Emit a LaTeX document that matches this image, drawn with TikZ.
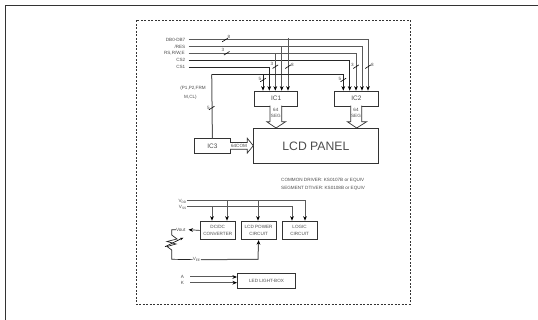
\documentclass[tikz,border=0pt]{standalone}
\usepackage{fontspec}
\setmainfont{Liberation Sans}
\usetikzlibrary{arrows.meta}
\definecolor{linegray}{gray}{0.35}
\tikzset{
  wire/.style={linegray,line width=1pt},
  thinwire/.style={black!85,line width=0.7pt},
  feed/.style={wire,-{Stealth[length=1.6mm,width=1.3mm,black]}},
  thinfeed/.style={thinwire,-{Stealth[length=1.6mm,width=1.3mm,black]}},
  slash/.style={black,line width=0.6pt},
  tag/.style={inner sep=0pt,font=\fontsize{4.6pt}{5pt}\selectfont,text=black!70},
  block/.style={draw=black!80,line width=0.8pt,inner sep=0pt,anchor=north west,align=center,font=\fontsize{4.6pt}{7pt}\selectfont,text=black!70},
  bigtag/.style={font=\fontsize{6.5pt}{7pt}\selectfont},
  bus/.style={draw=black!80,fill=white,line width=0.7pt,line join=miter}
}
\begin{document}
\begin{tikzpicture}[x=1pt,y=-1pt]
\useasboundingbox (0,0) rectangle (538,320);
\draw[black!80,line width=0.9pt] (5,320) -- (5,5) -- (538,5);
\draw[black!80,dashed,line width=0.6pt,dash pattern=on 2pt off 1.5pt] (136,20.3) rectangle (410,304.3);
% input lines
\node[tag,anchor=east] (db) at (185.5,40) {DB0-DB7};
\node[tag,anchor=east] (res) at (185.5,46.7) {/RES};
\node[tag,anchor=east] (rs) at (185,53.3) {RS,R/W,E};
\node[tag,anchor=east] (cstwo) at (185.5,60.3) {CS2};
\node[tag,anchor=east] (csone) at (185.5,67.3) {CS1};
\node[tag] (fm) at (193,88.3) {(P1,P2,FRM};
\node[tag] (ml) at (190.5,97.3) {M,CL)};
% blocks
\node[block,bigtag,minimum width=43.4pt,minimum height=15pt] (ic1) at (254,90.7) {IC1};
\node[block,bigtag,minimum width=43.4pt,minimum height=15pt] (ic2) at (334.3,90.7) {IC2};
\node[block,bigtag,minimum width=36pt,minimum height=15pt] (ic3) at (194,138.3) {IC3};
\node[block,minimum width=124.4pt,minimum height=35.6pt,font=\fontsize{12.2pt}{14pt}\selectfont] (panel) at (253.3,127.7) {LCD PANEL};
\node[block,minimum width=34.7pt,minimum height=18.6pt] (dcdc) at (200,220.7) {DC/DC\\CONVERTER};
\node[block,minimum width=35pt,minimum height=18.6pt] (power) at (240.7,220.7) {LCD POWER\\CIRCUIT};
\node[block,minimum width=35pt,minimum height=18.6pt] (logic) at (281.7,220.7) {LOGIC\\CIRCUIT};
\node[block,minimum width=58.3pt,minimum height=15pt] (led) at (237,272.7) {LED LIGHT-BOX};
% bus to ic1 and ic2
\coordinate (busa) at (188.7,40);
\coordinate (busb) at (188.7,46.7);
\coordinate (busc) at (188.7,53.3);
\coordinate (busd) at (188.7,60.3);
\coordinate (buse) at (188.7,67.3);
\draw[feed] (busa) -- (368,40) -- (368,90.7);
\draw[feed] (busb) -- (362,46.7) -- (362,90.7);
\draw[feed] (busc) -- (356,53.3) -- (356,90.7);
\draw[thinfeed] (busd) -- (349.7,60.3) -- (349.7,90.7);
\draw[thinfeed] (buse) -- (269.3,67.3) -- (269.3,90.7);
\draw[feed] (288,38) -- (288,90.7);
\draw[feed] (281.7,46.7) -- (281.7,90.7);
\draw[feed] (275.3,53.3) -- (275.3,90.7);
\draw[wire] (ic3.north) -- (211.7,74.3);
\draw[thinfeed] (211.7,74.3) -- (343.3,74.3) -- (343.3,90.7);
\draw[thinfeed] (263,74.3) -- (263,90.7);
% slashes
\foreach \px/\py in {225/40,226.7/53.3,211.7/108,263/80,343.3/80,275.3/66.7,288/66.7,356/66.7,368/66.7}{
  \draw[slash] (\px-2.8,\py+1.8) -- (\px+2.8,\py-1.8);
}
\node[tag] (sla) at (229,36.7) {8};
\node[tag] (slb) at (223,50) {3};
\node[tag] (slc) at (208.3,108) {5};
\node[tag] (sld) at (260,79) {5};
\node[tag] (sle) at (340,79) {5};
\node[tag] (slf) at (272,64) {3};
\node[tag] (slg) at (292.3,65) {8};
\node[tag] (slh) at (352.3,64.5) {3};
\node[tag] (sli) at (372.3,65) {8};
% hollow arrows
\draw[bus] (270,105.7) -- (270,121.7) -- (266.7,121.7) -- (276,128) -- (285.7,121.7) -- (281.7,121.7) -- (281.7,105.7);
\draw[bus] (350.7,105.7) -- (350.7,121.7) -- (347.3,121.7) -- (356.7,128) -- (366.7,121.7) -- (361.7,121.7) -- (361.7,105.7);
\draw[bus] (230,142.5) -- (247.3,142.5) -- (247.3,138.3) -- (253.3,145.7) -- (247.3,153) -- (247.3,149.3) -- (230,149.3);
\node[tag] (sega) at (275.8,110) {64};
\node[tag] (segb) at (275.8,116) {SEG};
\node[tag] (segc) at (356,110) {64};
\node[tag] (segd) at (356,116) {SEG};
\node[tag] (com) at (239,145.7) {64COM};
\node[tag,anchor=west] (cd) at (281,180.5) {COMMON  DRIVER: KS0107B or EQUIV};
\node[tag,anchor=west] (sd) at (281,188) {SEGMENT DTIVER: KS0108B or EQUIV};
% power
\node[tag,anchor=east] (vdd) at (187,201) {V\textsubscript{DD}};
\node[tag,anchor=east] (vss) at (187,207) {V\textsubscript{SS}};
\draw[feed] (vdd) -- (305,201) -- (305,220.7);
\draw[feed] (vss) -- (292,207) -- (292,220.7);
\draw[feed] (227,201) -- (227,220.7);
\draw[feed] (258,201) -- (258,220.7);
\draw[feed] (212,207) -- (212,220.7);
\node[tag] (vout) at (180.7,229.7) {Vout};
\node[tag] (vee) at (196.7,259.7) {V\textsubscript{EE}};
\draw[thinfeed] (dcdc.west) -- ([xshift=3pt]vout.east);
\draw[thinwire] (vout) -- (171.7,229.7) -- (171.7,235) -- (177,239) -- (167,241.5) -- (176,244) -- (167,246.5) -- (171.7,250) -- (171.7,259.3) -- (vee);
\draw[slash,-{Stealth[length=1.2mm,width=0.9mm]}] (165,246.7) -- (183.3,237.7);
\draw[feed] (vee) -- (258,259.3) -- (power.south);
% backlight
\node[tag] (anode) at (182.5,276.5) {A};
\node[tag] (cath) at (182.5,282.5) {K};
\coordinate (acorner) at (190,277);
\coordinate (kcorner) at (190,282.7);
\draw[feed] (acorner) -- (237,277);
\draw[feed] (kcorner) -- (237,282.7);
\end{tikzpicture}
\end{document}
